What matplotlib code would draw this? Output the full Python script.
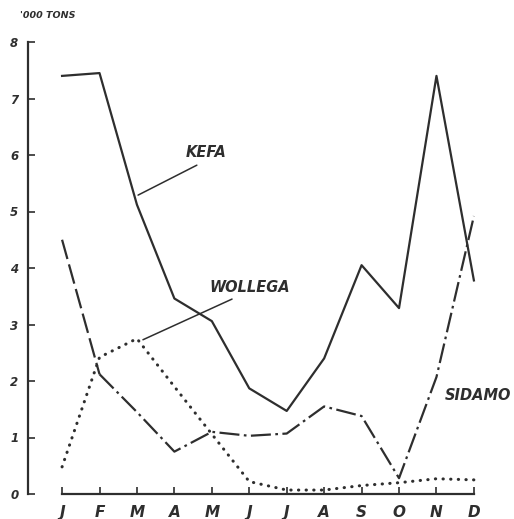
import matplotlib.pyplot as plt
import numpy as np

# monthly output, '000 tons
months = ['J', 'F', 'M', 'A', 'M', 'J', 'J', 'A', 'S', 'O', 'N', 'D']
kefa = [7.4, 7.45, 5.12, 3.46, 3.06, 1.87, 1.47, 2.4, 4.05, 3.29, 7.4, 3.78]
sidamo = [4.5, 2.12, 1.45, 0.75, 1.1, 1.03, 1.07, 1.55, 1.38, 0.28, 2.07, 4.92]
wollega = [0.48, 2.42, 2.75, 1.9, 1.06, 0.22, 0.07, 0.07, 0.15, 0.2, 0.27, 0.25]
yticks = [0, 1, 2, 3, 4, 5, 6, 7, 8]

ink = '#2e2e2e'
lab = dict(family='DejaVu Sans', style='italic', weight='bold', color=ink)

x = np.arange(len(months))

fig = plt.figure(figsize=(5.14, 5.19), dpi=100)
ax = fig.add_axes([28/514, 25/519, 462/514, 452/519])

ax.plot(x, kefa, color=ink, lw=1.6)
# sidamo: long dashes Jan-Feb, then dash-dot
ax.plot(x[:2], sidamo[:2], color=ink, lw=1.6, dashes=(9, 2.5))
ax.plot(x[1:], sidamo[1:], color=ink, lw=1.6, dashes=(9, 2, 1.2, 2))
ax.plot(x, wollega, color=ink, lw=2.2, linestyle=(0, (0.1, 2.4)),
        dash_capstyle='round')

ax.set_xlim(-0.91, 11.43)
ax.set_ylim(0, 8)
ax.spines['top'].set_visible(False)
ax.spines['right'].set_visible(False)
ax.spines['bottom'].set_bounds(0, 11)
ax.spines['left'].set_bounds(0, 8)
for s in ('bottom', 'left'):
    ax.spines[s].set_color(ink)
    ax.spines[s].set_linewidth(1.6)

ax.set_xticks(x)
ax.set_xticklabels(months, fontsize=11, **lab)
ax.set_yticks(yticks)
ax.set_yticklabels([str(v) for v in yticks], fontsize=8.5, **lab)
ax.tick_params(axis='x', direction='in', length=5, width=1.2, color=ink, pad=8)
ax.tick_params(axis='y', direction='in', length=5, width=1.2, color=ink, pad=7)

# labels and leader lines
leader = dict(arrowstyle='-', color=ink, lw=1.1, shrinkA=0, shrinkB=0)
ax.text(3.85, 6.04, 'KEFA', fontsize=10.5, ha='center', va='center', **lab)
ax.annotate('', xy=(2.03, 5.29), xytext=(3.6, 5.82), arrowprops=leader)
ax.text(5.02, 3.65, 'WOLLEGA', fontsize=10.5, ha='center', va='center', **lab)
ax.annotate('', xy=(2.16, 2.73), xytext=(4.54, 3.45), arrowprops=leader)
ax.text(11.1, 1.74, 'SIDAMO', fontsize=10.5, ha='center', va='center', **lab)

fig.text(48/514, 1 - 15/519, "'000 TONS", fontsize=6.8, ha='center',
         va='center', **lab)

fig.savefig('out.png', dpi=100, facecolor='white')
